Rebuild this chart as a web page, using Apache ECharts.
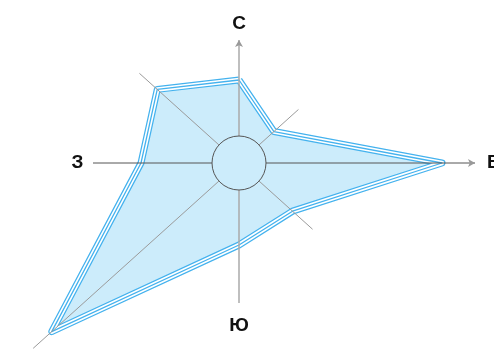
<!DOCTYPE html>
<html>
<head>
<meta charset="utf-8">
<script src="https://cdn.jsdelivr.net/npm/echarts@6/dist/echarts.min.js"></script>
<style>
html, body { margin: 0; padding: 0; background: #fff; }
#chart { width: 494px; height: 358px; }
</style>
</head>
<body>
<div id="chart"></div>
<script>
// compass directions, clockwise from north
const directions = ['С', 'СВ', 'В', 'ЮВ', 'Ю', 'ЮЗ', 'З', 'СЗ'];
const bearings = [0, 48, 90, 132, 180, 228, 270, 312];
const values = [83, 47, 203, 72, 82, 252, 98, 110];
const axisEnds = [123, 80, 236, 99, 140, 277, 146, 134];
const calmRadius = 27;

// which directions get a caption / arrow
const labelPos = { 'С': 'top', 'В': 'right', 'Ю': 'bottom', 'З': 'left' };
const labelDist = { 'С': 7, 'В': 12, 'Ю': 13, 'З': 9 };
const arrowRotate = { 'С': 0, 'В': -90 };

const chart = echarts.init(document.getElementById('chart'));

let polygon = values.map((v, i) => [v, bearings[i]]);
polygon.push([values[0], 360]);

function axisColor(i) {
  if (i === 2 || i === 6) return '#555';
  if (i === 0 || i === 4) return '#aaa';
  return '#9a9a9a';
}

let axisSeries = directions.map((name, i) => {
  let end = { value: [axisEnds[i], bearings[i]], name: name };
  if (arrowRotate[name] !== undefined) {
    end.symbol = 'arrow';
    end.symbolSize = [6, 7];
    end.symbolRotate = arrowRotate[name];
    end.itemStyle = { color: '#999' };
  } else {
    end.symbol = 'circle';
    end.symbolSize = 1;
    end.itemStyle = { color: 'rgba(0,0,0,0)' };
  }
  if (labelPos[name]) {
    end.label = {
      show: true,
      formatter: name,
      position: labelPos[name],
      distance: labelDist[name],
      fontSize: 19,
      fontWeight: 'bold',
      fontFamily: 'Liberation Sans, Arial, sans-serif',
      color: '#111'
    };
  }
  return {
    type: 'line',
    coordinateSystem: 'polar',
    polarIndex: 0,
    z: 5,
    symbol: 'none',
    lineStyle: { color: axisColor(i), width: (i === 0 || i === 4) ? 1.5 : 1 },
    data: [[calmRadius, bearings[i]], end]
  };
});

const option = {
  animation: false,
  polar: [
    { center: [239, 163], radius: 300 },
    { center: [239, 163], radius: calmRadius }
  ],
  angleAxis: [
    { polarIndex: 0, type: 'value', min: 0, max: 360, startAngle: 90, clockwise: true, show: false },
    {
      polarIndex: 1, type: 'value', min: 0, max: 360, startAngle: 90, z: 10,
      axisLine: { show: true, lineStyle: { color: '#555', width: 1 } },
      axisTick: { show: false }, axisLabel: { show: false }, splitLine: { show: false }
    }
  ],
  radiusAxis: [
    { polarIndex: 0, type: 'value', min: 0, max: 300, show: false },
    { polarIndex: 1, type: 'value', min: 0, max: 1, show: false }
  ],
  series: [
    {
      type: 'line',
      coordinateSystem: 'polar',
      polarIndex: 0,
      showSymbol: false,
      z: 2,
      lineStyle: { color: '#44b2ee', width: 7, join: 'round' },
      areaStyle: { color: '#ccecfb', opacity: 1, origin: 'start' },
      data: polygon
    },
    {
      type: 'line',
      coordinateSystem: 'polar',
      polarIndex: 0,
      showSymbol: false,
      z: 3,
      lineStyle: { color: '#ffffff', width: 4.5, join: 'round' },
      data: polygon
    },
    {
      type: 'line',
      coordinateSystem: 'polar',
      polarIndex: 0,
      showSymbol: false,
      z: 4,
      lineStyle: { color: '#44b2ee', width: 1.3, join: 'round' },
      data: polygon
    }
  ].concat(axisSeries)
};

chart.setOption(option);
</script>
</body>
</html>
